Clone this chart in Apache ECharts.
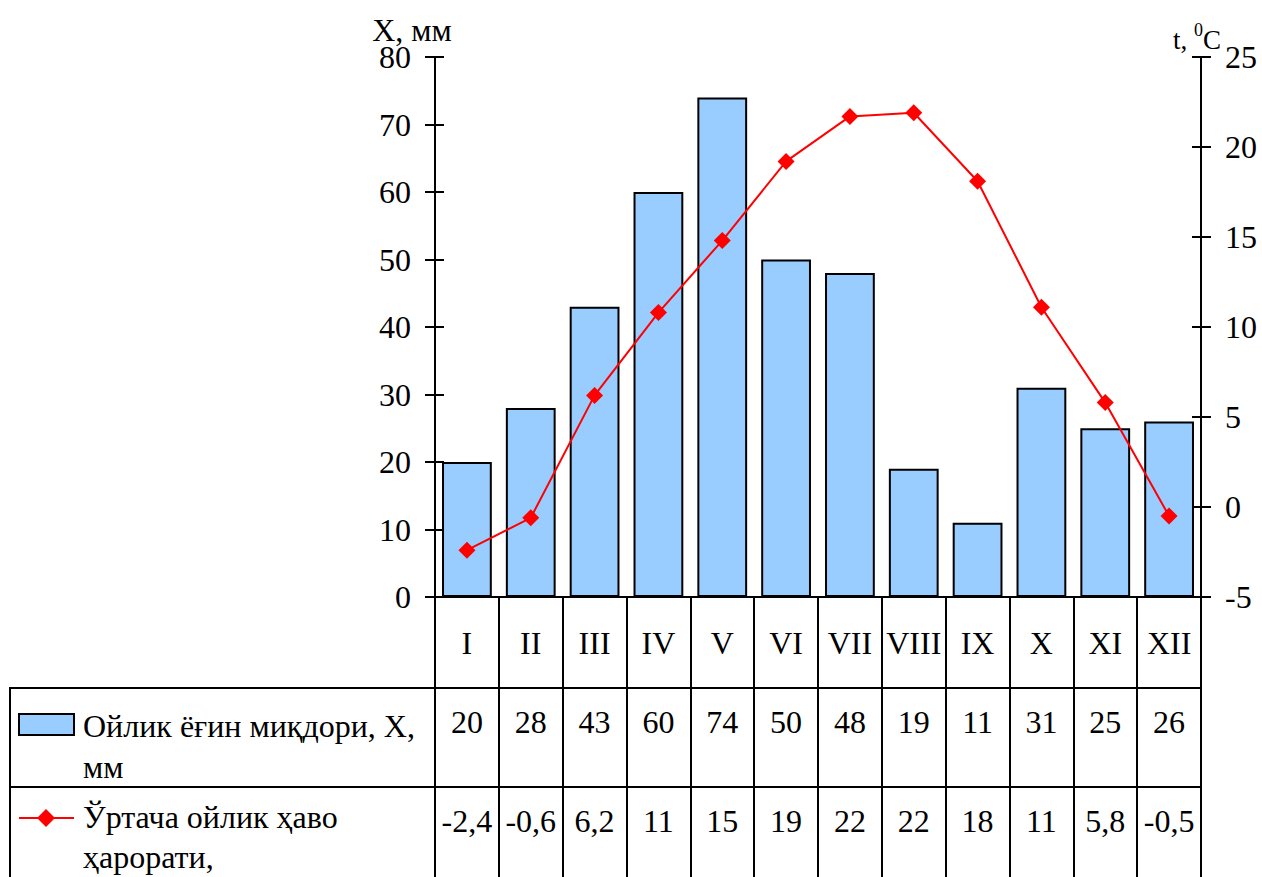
<!DOCTYPE html>
<html>
<head>
<meta charset="utf-8">
<script src="https://cdn.jsdelivr.net/npm/echarts@6/dist/echarts.min.js"></script>
<style>html,body{margin:0;padding:0;background:#fff;}#c{width:1262px;height:877px;}</style>
</head>
<body>
<div id="c"></div>
<script>
const months = ['I','II','III','IV','V','VI','VII','VIII','IX','X','XI','XII'];
const precip = [20, 28, 43, 60, 74, 50, 48, 19, 11, 31, 25, 26];
const temp = [-2.4, -0.6, 6.2, 10.8, 14.8, 19.2, 21.7, 21.9, 18.1, 11.1, 5.8, -0.5];
const precipLabels = ['20','28','43','60','74','50','48','19','11','31','25','26'];
const tempLabels = ['-2,4','-0,6','6,2','11','15','19','22','22','18','11','5,8','-0,5'];
const precipName = 'Ойлик ёғин миқдори, Х,\nмм';
const tempName = 'Ўртача ойлик ҳаво\nҳарорати,';

const FONT = 'Liberation Serif';
const FS = 32;
const txt = {fontFamily: FONT, fontSize: FS, color: '#000'};
const blk = {color: '#000', width: 2};

const chart = echarts.init(document.getElementById('c'), null, {renderer: 'svg'});
chart.setOption({
  animation: false,
  backgroundColor: '#fff',
  grid: {left: 435, right: 61, top: 57, bottom: 280, containLabel: false},
  xAxis: [
    {type: 'category', data: months, position: 'bottom',
     axisLine: {show: true, lineStyle: blk},
     axisTick: {show: true, length: 280, lineStyle: blk},
     axisLabel: Object.assign({margin: 30, interval: 0}, txt)},
    {type: 'category', data: months, position: 'bottom', offset: 91,
     axisLine: {show: false}, axisTick: {show: false},
     axisLabel: Object.assign({margin: 18, interval: 0, formatter: (v, i) => precipLabels[i]}, txt)},
    {type: 'category', data: months, position: 'bottom', offset: 190,
     axisLine: {show: false}, axisTick: {show: false},
     axisLabel: Object.assign({margin: 18, interval: 0, formatter: (v, i) => tempLabels[i]}, txt)}
  ],
  yAxis: [
    {type: 'value', min: 0, max: 80, interval: 10, position: 'left',
     name: 'Х, мм', nameLocation: 'end', nameGap: 11, nameMoveOverlap: false,
     nameTextStyle: Object.assign({padding: [0, 46, 0, 0]}, txt),
     axisLine: {show: true, lineStyle: blk},
     axisTick: {show: true, length: 10, lineStyle: blk},
     axisLabel: Object.assign({margin: 24}, txt),
     splitLine: {show: false}},
    {type: 'value', min: -5, max: 25, interval: 5, position: 'right',
     name: '{a|t, }{s|0}{a|C}', nameLocation: 'end', nameGap: 4, nameMoveOverlap: false,
     nameTextStyle: {padding: [0, 8, 0, 0], rich: {
       a: {fontFamily: FONT, fontSize: 27, color: '#000', verticalAlign: 'bottom'},
       s: {fontFamily: FONT, fontSize: 18, color: '#000', verticalAlign: 'top', padding: [0, 0, 14, 0]}}},
     axisLine: {show: true, lineStyle: blk},
     axisTick: {show: true, length: 10, lineStyle: blk},
     axisLabel: Object.assign({margin: 24}, txt),
     splitLine: {show: false}},
    {type: 'value', min: 0, max: 80, interval: 10, position: 'left',
     axisLine: {show: false}, axisTick: {show: true, inside: true, length: 9, lineStyle: blk},
     axisLabel: {show: false}, splitLine: {show: false}},
    {type: 'value', min: -5, max: 25, interval: 5, position: 'right',
     axisLine: {show: false}, axisTick: {show: true, inside: true, length: 9, lineStyle: blk},
     axisLabel: {show: false}, splitLine: {show: false}}
  ],
  series: [
    {type: 'bar', name: precipName, data: precip, xAxisIndex: 0, yAxisIndex: 0,
     barCategoryGap: '22%',
     itemStyle: {color: '#99CCFF', borderColor: '#000', borderWidth: 2}, z: 2},
    {type: 'line', name: tempName, data: temp, xAxisIndex: 0, yAxisIndex: 1,
     symbol: 'diamond', symbolSize: 17, showSymbol: true,
     lineStyle: {color: '#FF0000', width: 2}, itemStyle: {color: '#FF0000'}, z: 5}
  ],
  graphic: [
    {type: 'line', shape: {x1: 10, y1: 688, x2: 1201, y2: 688}, style: {stroke: '#000', lineWidth: 2}},
    {type: 'line', shape: {x1: 10, y1: 787, x2: 1201, y2: 787}, style: {stroke: '#000', lineWidth: 2}},
    {type: 'line', shape: {x1: 10, y1: 687, x2: 10, y2: 877}, style: {stroke: '#000', lineWidth: 2}},
    {type: 'rect', shape: {x: 19, y: 714, width: 55, height: 21}, style: {fill: '#99CCFF', stroke: '#000', lineWidth: 2}},
    {type: 'text', x: 83, y: 705, style: {text: precipName, font: FS + 'px "' + FONT + '"', fill: '#000', lineHeight: 41}},
    {type: 'line', shape: {x1: 19, y1: 818, x2: 74, y2: 818}, style: {stroke: '#FF0000', lineWidth: 2}},
    {type: 'polygon', shape: {points: [[46, 809], [55, 818], [46, 827], [37, 818]]}, style: {fill: '#FF0000'}},
    {type: 'text', x: 83, y: 797, style: {text: tempName, font: FS + 'px "' + FONT + '"', fill: '#000', lineHeight: 40}}
  ]
});
</script>
</body>
</html>
